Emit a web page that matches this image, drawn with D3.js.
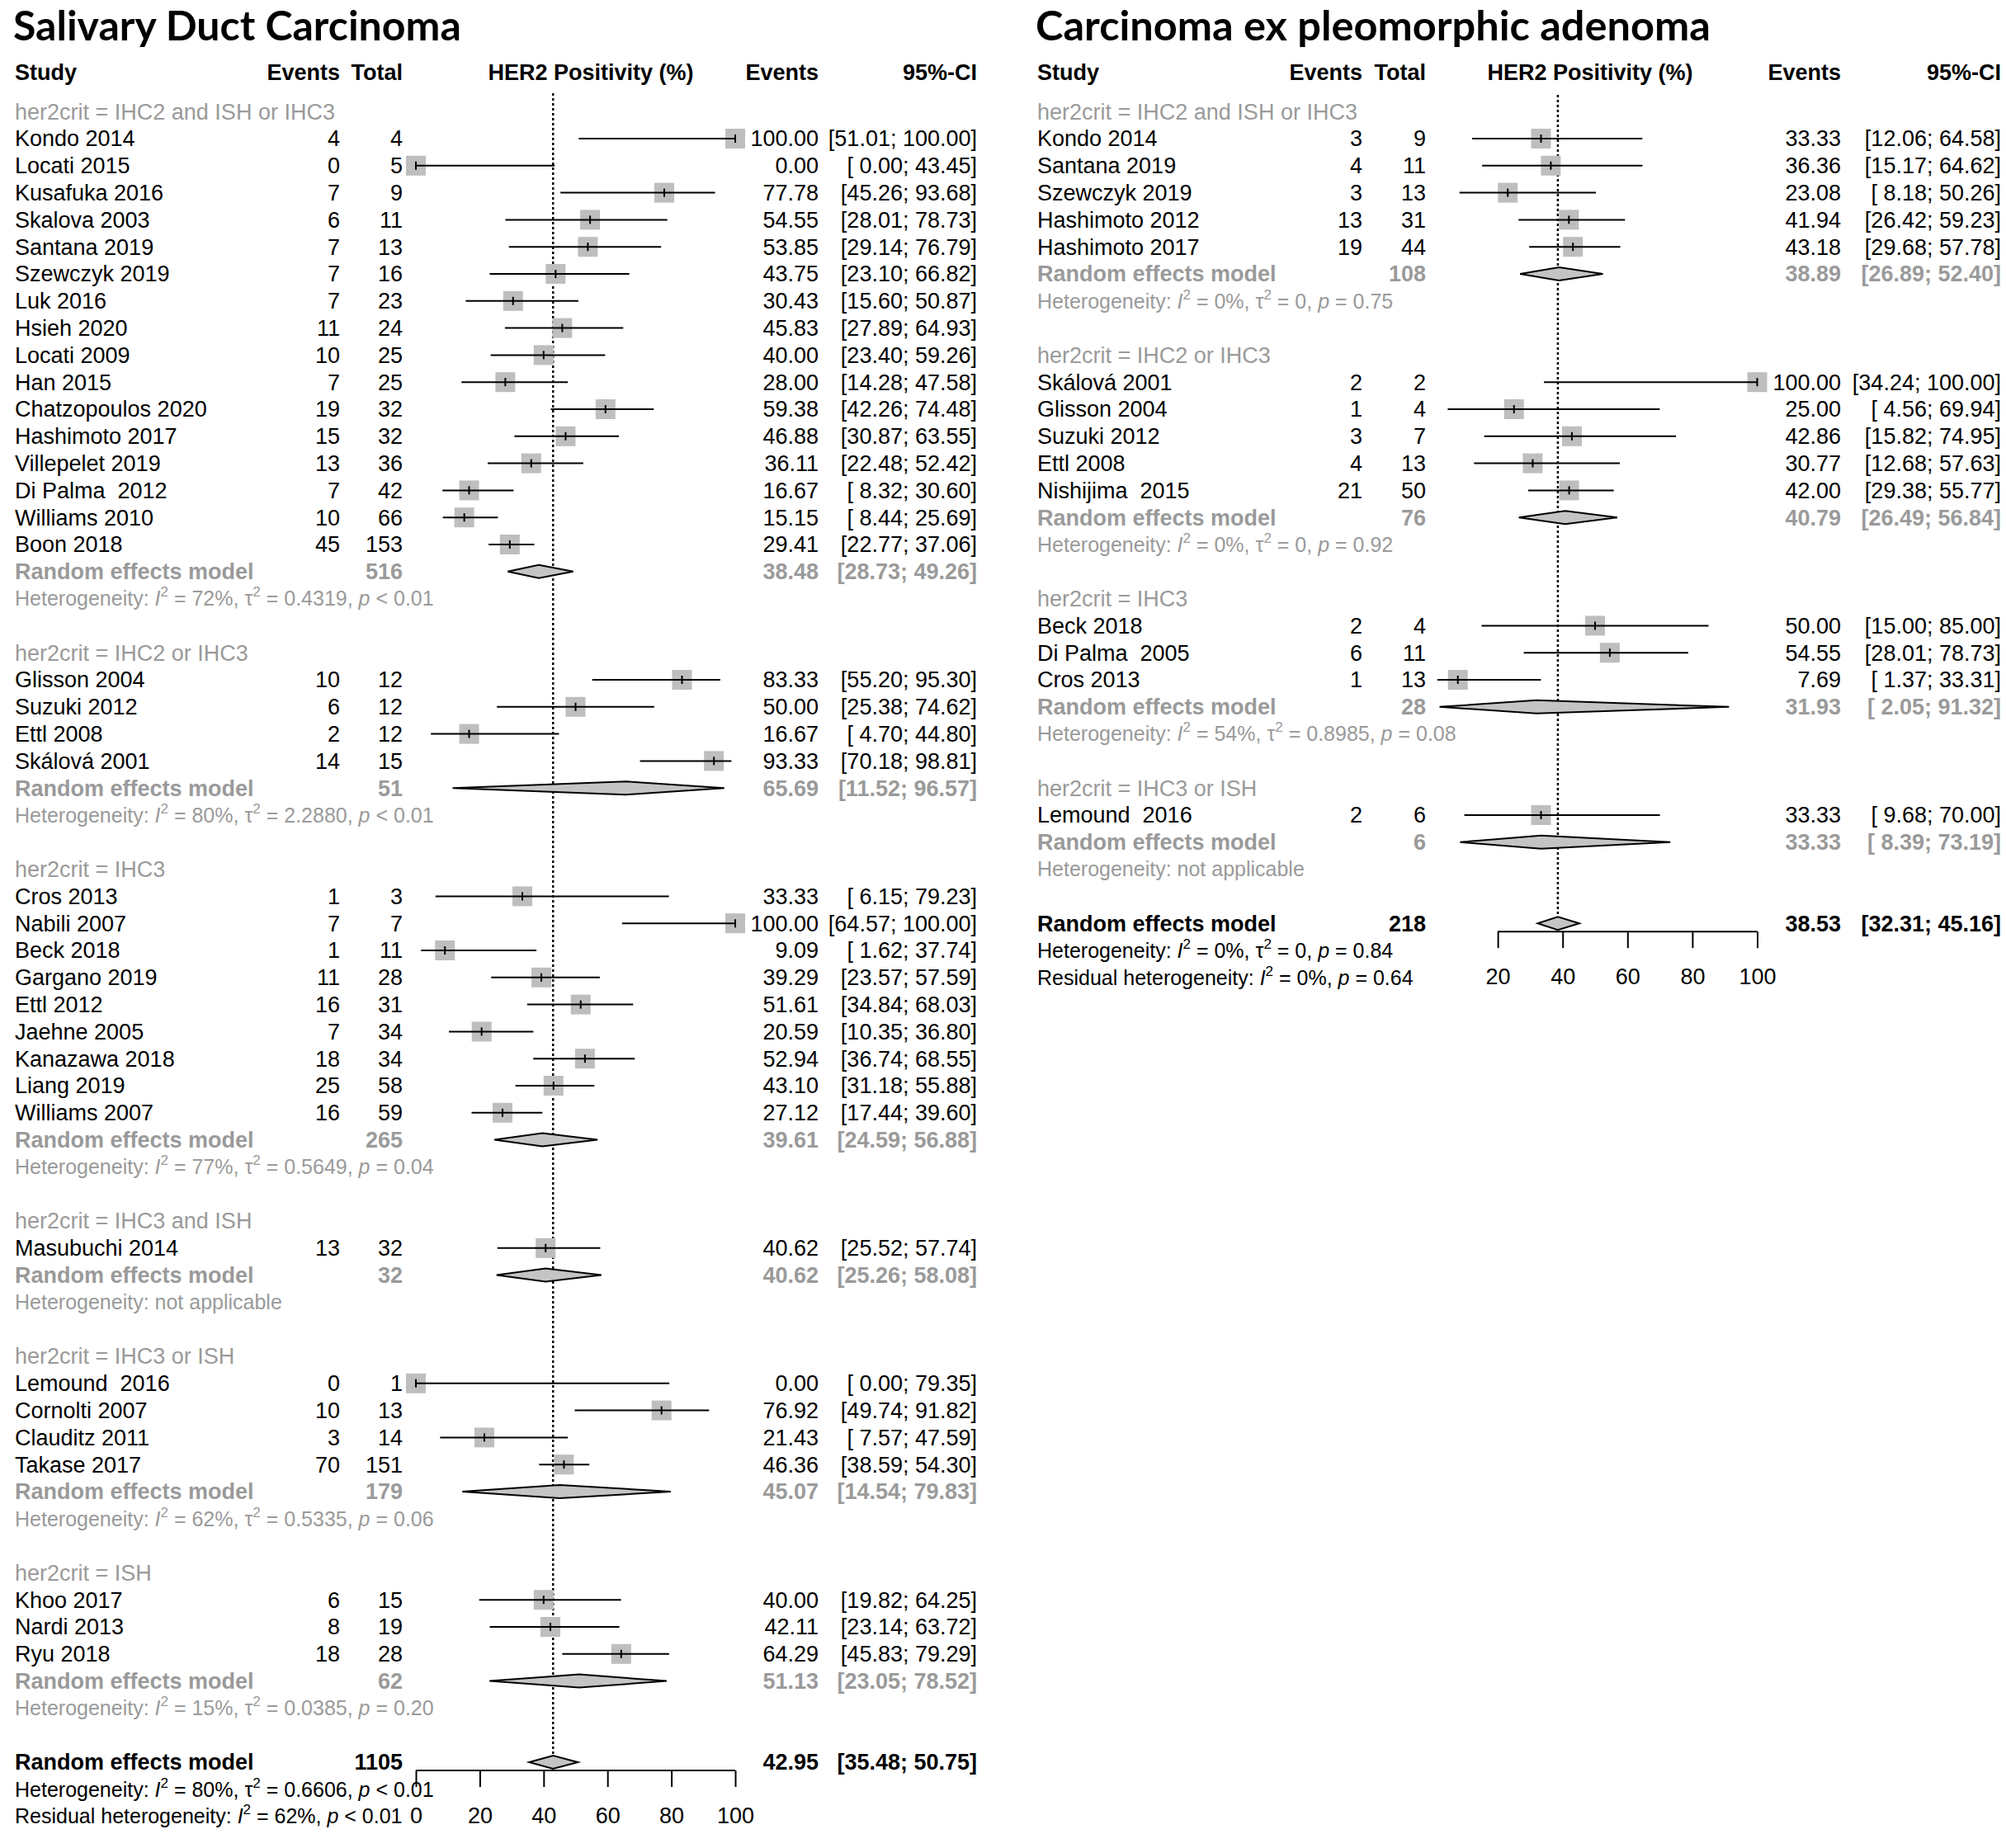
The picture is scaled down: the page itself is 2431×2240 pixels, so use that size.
<!DOCTYPE html>
<html>
<head>
<meta charset="utf-8">
<script src="https://cdn.jsdelivr.net/npm/d3@7"></script>
<style>
body { margin: 0; background: #fff; }
text { white-space: pre; font-family: "Liberation Sans", Arial, sans-serif; }
</style>
</head>
<body>
<div id="chart"></div>
<script>

// ---------- Salivary Duct Carcinoma (left) ----------
var sdcGroups = ["her2crit = IHC2 and ISH or IHC3", "her2crit = IHC2 or IHC3", "her2crit = IHC3",
                 "her2crit = IHC3 and ISH", "her2crit = IHC3 or ISH", "her2crit = ISH"];
var sdcStudy = ["Kondo 2014", "Locati 2015", "Kusafuka 2016", "Skalova 2003", "Santana 2019", "Szewczyk 2019",
                "Luk 2016", "Hsieh 2020", "Locati 2009", "Han 2015", "Chatzopoulos 2020", "Hashimoto 2017",
                "Villepelet 2019", "Di Palma  2012", "Williams 2010", "Boon 2018",
                "Glisson 2004", "Suzuki 2012", "Ettl 2008", "Skálová 2001",
                "Cros 2013", "Nabili 2007", "Beck 2018", "Gargano 2019", "Ettl 2012", "Jaehne 2005",
                "Kanazawa 2018", "Liang 2019", "Williams 2007",
                "Masubuchi 2014",
                "Lemound  2016", "Cornolti 2007", "Clauditz 2011", "Takase 2017",
                "Khoo 2017", "Nardi 2013", "Ryu 2018"];
var sdcGroupOf = [0,0,0,0,0,0,0,0,0,0,0,0,0,0,0,0, 1,1,1,1, 2,2,2,2,2,2,2,2,2, 3, 4,4,4,4, 5,5,5];
var sdcEvents = [4,0,7,6,7,7,7,11,10,7,19,15,13,7,10,45, 10,6,2,14, 1,7,1,11,16,7,18,25,16, 13, 0,10,3,70, 6,8,18];
var sdcTotal = [4,5,9,11,13,16,23,24,25,25,32,32,36,42,66,153, 12,12,12,15, 3,7,11,28,31,34,34,58,59, 32, 1,13,14,151, 15,19,28];
var sdcEst = [100.00,0.00,77.78,54.55,53.85,43.75,30.43,45.83,40.00,28.00,59.38,46.88,36.11,16.67,15.15,29.41,
              83.33,50.00,16.67,93.33, 33.33,100.00,9.09,39.29,51.61,20.59,52.94,43.10,27.12, 40.62,
              0.00,76.92,21.43,46.36, 40.00,42.11,64.29];
var sdcLower = [51.01,0.00,45.26,28.01,29.14,23.10,15.60,27.89,23.40,14.28,42.26,30.87,22.48,8.32,8.44,22.77,
                55.20,25.38,4.70,70.18, 6.15,64.57,1.62,23.57,34.84,10.35,36.74,31.18,17.44, 25.52,
                0.00,49.74,7.57,38.59, 19.82,23.14,45.83];
var sdcUpper = [100.00,43.45,93.68,78.73,76.79,66.82,50.87,64.93,59.26,47.58,74.48,63.55,52.42,30.60,25.69,37.06,
                95.30,74.62,44.80,98.81, 79.23,100.00,37.74,57.59,68.03,36.80,68.55,55.88,39.60, 57.74,
                79.35,91.82,47.59,54.30, 64.25,63.72,79.29];
var sdcSubTotal = [516, 51, 265, 32, 179, 62];
var sdcSubEst = [38.48, 65.69, 39.61, 40.62, 45.07, 51.13];
var sdcSubLower = [28.73, 11.52, 24.59, 25.26, 14.54, 23.05];
var sdcSubUpper = [49.26, 96.57, 56.88, 58.08, 79.83, 78.52];
var sdcHetI2 = ["72%", "80%", "77%", null, "62%", "15%"];
var sdcHetTau2 = ["0.4319", "2.2880", "0.5649", null, "0.5335", "0.0385"];
var sdcHetP = ["< 0.01", "< 0.01", "= 0.04", null, "= 0.06", "= 0.20"];
var sdcOverall = [1105, 42.95, 35.48, 50.75];      // total, estimate, lower, upper
var sdcOverallHet = ["80%", "0.6606", "< 0.01"];  // I2, tau2, p
var sdcResidHet = ["62%", "< 0.01"];              // I2, p
var sdcTicks = [0, 20, 40, 60, 80, 100];

// ---------- Carcinoma ex pleomorphic adenoma (right) ----------
var cxpaGroups = ["her2crit = IHC2 and ISH or IHC3", "her2crit = IHC2 or IHC3", "her2crit = IHC3", "her2crit = IHC3 or ISH"];
var cxpaStudy = ["Kondo 2014", "Santana 2019", "Szewczyk 2019", "Hashimoto 2012", "Hashimoto 2017",
                 "Skálová 2001", "Glisson 2004", "Suzuki 2012", "Ettl 2008", "Nishijima  2015",
                 "Beck 2018", "Di Palma  2005", "Cros 2013",
                 "Lemound  2016"];
var cxpaGroupOf = [0,0,0,0,0, 1,1,1,1,1, 2,2,2, 3];
var cxpaEvents = [3,4,3,13,19, 2,1,3,4,21, 2,6,1, 2];
var cxpaTotal = [9,11,13,31,44, 2,4,7,13,50, 4,11,13, 6];
var cxpaEst = [33.33,36.36,23.08,41.94,43.18, 100.00,25.00,42.86,30.77,42.00, 50.00,54.55,7.69, 33.33];
var cxpaLower = [12.06,15.17,8.18,26.42,29.68, 34.24,4.56,15.82,12.68,29.38, 15.00,28.01,1.37, 9.68];
var cxpaUpper = [64.58,64.62,50.26,59.23,57.78, 100.00,69.94,74.95,57.63,55.77, 85.00,78.73,33.31, 70.00];
var cxpaSubTotal = [108, 76, 28, 6];
var cxpaSubEst = [38.89, 40.79, 31.93, 33.33];
var cxpaSubLower = [26.89, 26.49, 2.05, 8.39];
var cxpaSubUpper = [52.40, 56.84, 91.32, 73.19];
var cxpaHetI2 = ["0%", "0%", "54%", null];
var cxpaHetTau2 = ["0", "0", "0.8985", null];
var cxpaHetP = ["= 0.75", "= 0.92", "= 0.08", null];
var cxpaOverall = [218, 38.53, 32.31, 45.16];
var cxpaOverallHet = ["0%", "0", "= 0.84"];
var cxpaResidHet = ["0%", "= 0.64"];
var cxpaTicks = [20, 40, 60, 80, 100];

var GRAY = "#9a9a9a";
var FS = 27, FS_HET = 25;
var ROW0 = 168, PITCH = 32.8;

var svg = d3.select("#chart")
  .append("svg")
    .attr("width", 2431)
    .attr("height", 2240);

function ci_text(lo, hi)
{
  var a = (lo < 10 ? " " : "") + lo.toFixed(2);
  var b = (hi < 10 ? " " : "") + hi.toFixed(2);
  return "[" + a + "; " + b + "]";
}

// heterogeneity line with italic I / p and superscript 2
function het_text(sel, label, i2, tau2, p, color)
{
  var t = sel.append("text").attr("font-size", FS_HET).attr("fill", color).attr("dy", "0.35em");
  if (i2 == null) { t.text(label + "not applicable"); return t; }
  t.append("tspan").text(label);
  t.append("tspan").attr("font-style", "italic").text("I");
  t.append("tspan").attr("font-size", 17).attr("dy", -11).text("2");
  if (tau2 != null) {
    t.append("tspan").attr("dy", 11).text(" = " + i2 + ", \u03c4");
    t.append("tspan").attr("font-size", 17).attr("dy", -11).text("2");
    t.append("tspan").attr("dy", 11).text(" = " + tau2 + ", ");
  } else {
    t.append("tspan").attr("dy", 11).text(" = " + i2 + ", ");
  }
  t.append("tspan").attr("font-style", "italic").text("p");
  t.append("tspan").text(" " + p);
  return t;
}

function draw_panel(o)
{
  var g = svg.append("g");
  var x = d3.scaleLinear().domain([0, 100]).range(o.range);
  var y = function (r) { return ROW0 + r * PITCH; };

  g.append("text")
    .attr("x", o.left - 2).attr("y", 49)
    .style("font-family", "Lato, 'Open Sans', sans-serif")
    .attr("font-weight", "bold").attr("font-size", o.titleSize)
    .text(o.title);

  var head = [["Study", o.left, "start"], ["Events", o.colEvents, "end"], ["Total", o.colTotal, "end"],
              ["HER2 Positivity (%)", o.colHer2, "middle"], ["Events", o.colEst, "end"], ["95%-CI", o.colCi, "end"]];
  g.selectAll(".head").data(head).enter().append("text")
    .attr("x", function (d) { return d[1]; })
    .attr("y", 88).attr("dy", "0.35em")
    .attr("text-anchor", function (d) { return d[2]; })
    .attr("font-weight", "bold").attr("font-size", FS)
    .text(function (d) { return d[0]; });

  // build the row layout
  var studies = [], subs = [];
  var r = -1;
  for (var k = 0; k < o.groups.length; k++)
  {
    g.append("text").attr("x", o.left).attr("y", y(r)).attr("dy", "0.35em")
      .attr("font-size", FS).attr("fill", GRAY).text(o.groups[k]);
    r++;
    for (var i = 0; i < o.study.length; i++)
    {
      if (o.groupOf[i] != k) continue;
      studies.push({name: o.study[i], ev: o.events[i], n: o.total[i], est: o.est[i], lo: o.lower[i], hi: o.upper[i], row: r});
      r++;
    }
    subs.push({n: o.subTotal[k], est: o.subEst[k], lo: o.subLower[k], hi: o.subUpper[k], row: r,
               i2: o.hetI2[k], tau2: o.hetTau2[k], p: o.hetP[k]});
    r += 3;
  }
  var overallRow = r;

  // reference line at the pooled estimate
  g.append("line")
    .attr("x1", x(o.overall[1])).attr("x2", x(o.overall[1]))
    .attr("y1", o.refTop).attr("y2", y(overallRow) - 8)
    .attr("stroke", "black").attr("stroke-width", 2.5).attr("stroke-dasharray", "3,3");

  // study rows
  var sg = g.append("g").selectAll("g").data(studies).enter().append("g");
  sg.append("text").attr("x", o.left).attr("y", function (d) { return y(d.row); }).attr("dy", "0.35em")
    .attr("font-size", FS).text(function (d) { return d.name; });
  sg.append("text").attr("x", o.colEvents).attr("y", function (d) { return y(d.row); }).attr("dy", "0.35em")
    .attr("text-anchor", "end").attr("font-size", FS).text(function (d) { return d.ev; });
  sg.append("text").attr("x", o.colTotal).attr("y", function (d) { return y(d.row); }).attr("dy", "0.35em")
    .attr("text-anchor", "end").attr("font-size", FS).text(function (d) { return d.n; });
  sg.append("text").attr("x", o.colEst).attr("y", function (d) { return y(d.row); }).attr("dy", "0.35em")
    .attr("text-anchor", "end").attr("font-size", FS).text(function (d) { return d.est.toFixed(2); });
  sg.append("text").attr("x", o.colCi).attr("y", function (d) { return y(d.row); }).attr("dy", "0.35em")
    .attr("text-anchor", "end").attr("font-size", FS).text(function (d) { return ci_text(d.lo, d.hi); });
  sg.append("rect")
    .attr("x", function (d) { return x(d.est) - 12; })
    .attr("y", function (d) { return y(d.row) - 12; })
    .attr("width", 24).attr("height", 24)
    .attr("fill", "#bebebe");
  sg.append("line")
    .attr("x1", function (d) { return x(d.lo); })
    .attr("x2", function (d) { return x(d.hi); })
    .attr("y1", function (d) { return y(d.row); })
    .attr("y2", function (d) { return y(d.row); })
    .attr("stroke", "black").attr("stroke-width", 2);
  sg.append("line")
    .attr("x1", function (d) { return x(d.est); })
    .attr("x2", function (d) { return x(d.est); })
    .attr("y1", function (d) { return y(d.row) - 5; })
    .attr("y2", function (d) { return y(d.row) + 5; })
    .attr("stroke", "black").attr("stroke-width", 2);

  // subgroup random effects rows
  var diamond = function (d) {
    var yy = y(d.row);
    return [[x(d.lo), yy], [x(d.est), yy - 8], [x(d.hi), yy], [x(d.est), yy + 8]].join(" ");
  };
  var rg = g.append("g").selectAll("g").data(subs).enter().append("g");
  rg.append("text").attr("x", o.left).attr("y", function (d) { return y(d.row); }).attr("dy", "0.35em")
    .attr("font-size", FS).attr("font-weight", "bold").attr("fill", GRAY).text("Random effects model");
  rg.append("text").attr("x", o.colTotal).attr("y", function (d) { return y(d.row); }).attr("dy", "0.35em")
    .attr("text-anchor", "end").attr("font-size", FS).attr("font-weight", "bold").attr("fill", GRAY)
    .text(function (d) { return d.n; });
  rg.append("text").attr("x", o.colEst).attr("y", function (d) { return y(d.row); }).attr("dy", "0.35em")
    .attr("text-anchor", "end").attr("font-size", FS).attr("font-weight", "bold").attr("fill", GRAY)
    .text(function (d) { return d.est.toFixed(2); });
  rg.append("text").attr("x", o.colCi).attr("y", function (d) { return y(d.row); }).attr("dy", "0.35em")
    .attr("text-anchor", "end").attr("font-size", FS).attr("font-weight", "bold").attr("fill", GRAY)
    .text(function (d) { return ci_text(d.lo, d.hi); });
  rg.append("polygon").attr("points", diamond)
    .attr("fill", "#c4c4c4").attr("stroke", "black").attr("stroke-width", 2);
  rg.each(function (d) {
    het_text(d3.select(this), "Heterogeneity: ", d.i2, d.tau2, d.p, GRAY)
      .attr("x", o.left).attr("y", y(d.row + 1));
  });

  // overall model
  var ov = {row: overallRow, n: o.overall[0], est: o.overall[1], lo: o.overall[2], hi: o.overall[3]};
  var yo = y(overallRow);
  g.append("text").attr("x", o.left).attr("y", yo).attr("dy", "0.35em")
    .attr("font-size", FS).attr("font-weight", "bold").text("Random effects model");
  g.append("text").attr("x", o.colTotal).attr("y", yo).attr("dy", "0.35em").attr("text-anchor", "end")
    .attr("font-size", FS).attr("font-weight", "bold").text(ov.n);
  g.append("text").attr("x", o.colEst).attr("y", yo).attr("dy", "0.35em").attr("text-anchor", "end")
    .attr("font-size", FS).attr("font-weight", "bold").text(ov.est.toFixed(2));
  g.append("text").attr("x", o.colCi).attr("y", yo).attr("dy", "0.35em").attr("text-anchor", "end")
    .attr("font-size", FS).attr("font-weight", "bold").text(ci_text(ov.lo, ov.hi));
  g.append("polygon").attr("points", diamond(ov))
    .attr("fill", "#c4c4c4").attr("stroke", "black").attr("stroke-width", 2);
  het_text(g, "Heterogeneity: ", o.overallHet[0], o.overallHet[1], o.overallHet[2], "black")
    .attr("x", o.left).attr("y", y(overallRow + 1));
  het_text(g, "Residual heterogeneity: ", o.residHet[0], null, o.residHet[1], "black")
    .attr("x", o.left).attr("y", y(overallRow + 2));

  // x axis
  var axisY = yo + 10;
  var ax = g.append("g")
    .attr("transform", "translate(0," + axisY + ")")
    .call(d3.axisBottom(x).tickValues(o.ticks).tickSize(20).tickSizeOuter(0).tickPadding(25));
  ax.select(".domain").remove();
  ax.selectAll(".tick line").attr("stroke", "black").attr("stroke-width", 2);
  ax.selectAll(".tick text").attr("font-size", FS).attr("font-family", "Liberation Sans, Arial, sans-serif")
    .attr("fill", "black");
  ax.append("line")
    .attr("x1", x(o.ticks[0])).attr("x2", x(o.ticks[o.ticks.length - 1]))
    .attr("y1", 0).attr("y2", 0)
    .attr("stroke", "black").attr("stroke-width", 2);
}

draw_panel({
  title: "Salivary Duct Carcinoma", titleSize: 50,
  left: 18, colEvents: 412, colTotal: 488, colHer2: 716, colEst: 992, colCi: 1184,
  range: [504, 891], refTop: 113,
  groups: sdcGroups, study: sdcStudy, groupOf: sdcGroupOf, events: sdcEvents, total: sdcTotal,
  est: sdcEst, lower: sdcLower, upper: sdcUpper,
  subTotal: sdcSubTotal, subEst: sdcSubEst, subLower: sdcSubLower, subUpper: sdcSubUpper,
  hetI2: sdcHetI2, hetTau2: sdcHetTau2, hetP: sdcHetP,
  overall: sdcOverall, overallHet: sdcOverallHet, residHet: sdcResidHet, ticks: sdcTicks
});

draw_panel({
  title: "Carcinoma ex pleomorphic adenoma", titleSize: 50.5,
  left: 1257, colEvents: 1651, colTotal: 1728, colHer2: 1927, colEst: 2231, colCi: 2425,
  range: [1736.5, 2129.5], refTop: 115,
  groups: cxpaGroups, study: cxpaStudy, groupOf: cxpaGroupOf, events: cxpaEvents, total: cxpaTotal,
  est: cxpaEst, lower: cxpaLower, upper: cxpaUpper,
  subTotal: cxpaSubTotal, subEst: cxpaSubEst, subLower: cxpaSubLower, subUpper: cxpaSubUpper,
  hetI2: cxpaHetI2, hetTau2: cxpaHetTau2, hetP: cxpaHetP,
  overall: cxpaOverall, overallHet: cxpaOverallHet, residHet: cxpaResidHet, ticks: cxpaTicks
});

</script>
</body>
</html>
